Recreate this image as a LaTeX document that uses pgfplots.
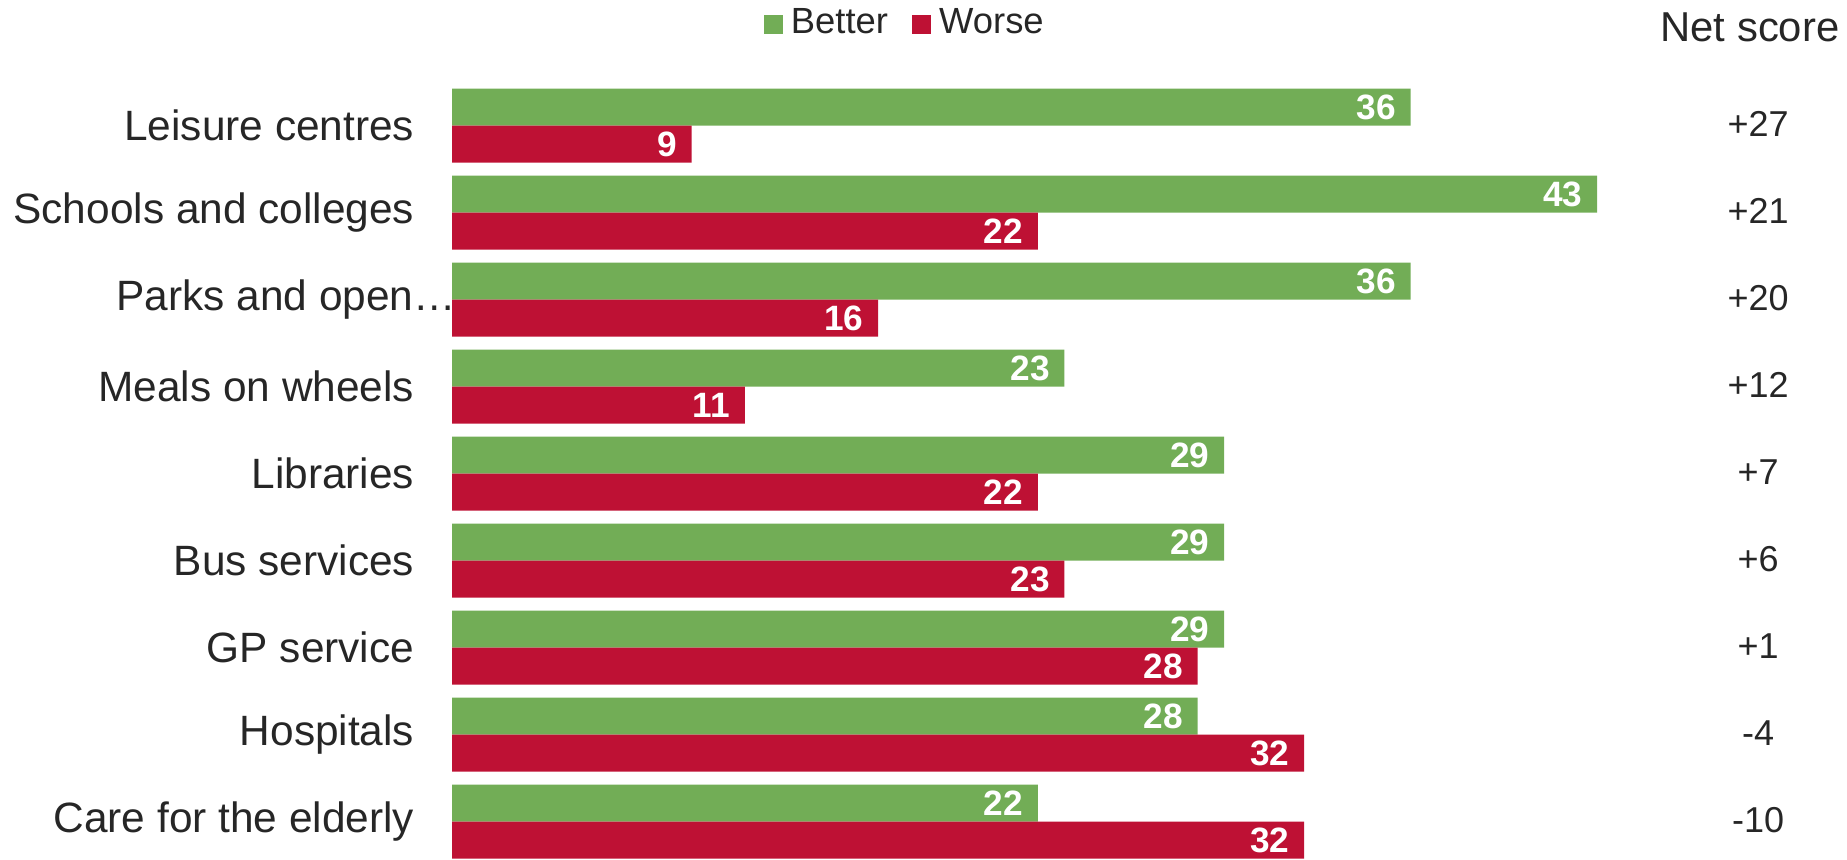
\documentclass[border=0pt]{standalone}
\usepackage{fontspec}
\setmainfont{Liberation Sans}
\usepackage{pgfplots}
\pgfplotsset{compat=1.18}
\definecolor{better}{RGB}{114,173,86}
\definecolor{worse}{RGB}{190,17,52}
\definecolor{txt}{RGB}{38,38,38}

\begin{document}
\begin{tikzpicture}
\begin{axis}[
  x=6.657pt, y=21.75pt,
  xmin=0, xmax=43,
  ymin=-0.43, ymax=8.43,
  axis lines*=left,
  axis line style={draw=none},
  clip=false,
  ytick={0,1,2,3,4,5,6,7,8},
  yticklabels={Care for the elderly, Hospitals, GP service, Bus services, Libraries, Meals on wheels, Parks and open…\hspace*{-10.45pt}, Schools and colleges, Leisure centres},
  y tick label style={font=\fontsize{10.6}{12}\selectfont, text=txt, anchor=east, inner sep=0pt, xshift=-9.25pt},
  major tick length=0pt,
  ytick style={draw=none},
  xtick=\empty,
  /pgf/number format/assume math mode=true,
  legend columns=2,
  legend style={at={(axis description cs:0.398,1.083)}, anchor=center, inner sep=1pt,
    draw=none, fill=none, font=\fontsize{9.1}{11}\selectfont, text=txt,
    /tikz/every even column/.append style={column sep=4pt}},
  legend image code/.code={\fill[#1] (0pt,-2.4pt) rectangle (4.8pt,2.4pt);},
]
\addplot[xbar, bar width=9.25pt, bar shift=4.625pt, fill=better, draw=none,
  nodes near coords,
  every node near coord/.append style={anchor=east, text=white, inner sep=0pt,
    xshift=-3.5pt, yshift=4.625pt, font=\fontsize{8.8}{10}\selectfont\bfseries}]
  coordinates {(36,8) (43,7) (36,6) (23,5) (29,4) (29,3) (29,2) (28,1) (22,0)};
\addlegendentry{Better}
\addplot[xbar, bar width=9.25pt, bar shift=-4.625pt, fill=worse, draw=none,
  nodes near coords,
  every node near coord/.append style={anchor=east, text=white, inner sep=0pt,
    xshift=-3.5pt, yshift=-4.625pt, font=\fontsize{8.8}{10}\selectfont\bfseries}]
  coordinates {(9,8) (22,7) (16,6) (11,5) (22,4) (23,3) (28,2) (32,1) (32,0)};
\addlegendentry{Worse}
\addplot[draw=none, mark=none, forget plot, nodes near coords, point meta=explicit symbolic,
  every node near coord/.style={anchor=center, text=txt, inner sep=0pt, yshift=0.4pt,
    font=\fontsize{9}{11}\selectfont}]
  coordinates {(49.05,8) [+27] (49.05,7) [+21] (49.05,6) [+20] (49.05,5) [+12]
    (49.05,4) [+7] (49.05,3) [+6] (49.05,2) [+1] (49.05,1) [-4] (49.05,0) [-10]};
\node[text=txt, font=\fontsize{10.45}{12}\selectfont, anchor=center, inner sep=0pt]
  at (axis description cs:1.1336,1.0786) {Net score};
\end{axis}
\path (current axis.south west) ++(-113pt,0pt) coordinate (bl);
\path (current axis.north east) ++(62.5pt,22.05pt) coordinate (tr);
\pgfresetboundingbox
\path[use as bounding box] (bl) rectangle (tr);
\end{tikzpicture}
\end{document}
